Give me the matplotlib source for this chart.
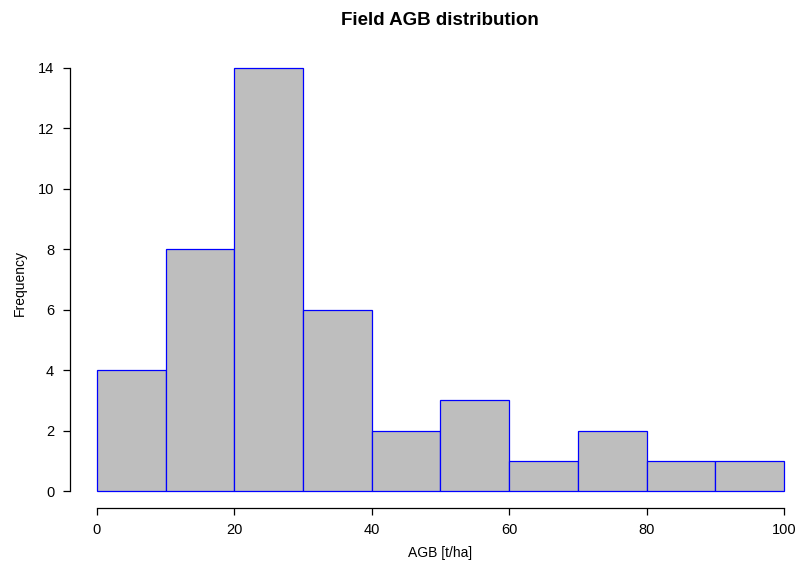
import matplotlib
matplotlib.use("Agg")
import matplotlib.pyplot as plt
import numpy as np

plt.rcParams['font.family'] = ['Liberation Sans', 'DejaVu Sans']

# histogram of field AGB, 10 t/ha bins
bin_edges = [0, 10, 20, 30, 40, 50, 60, 70, 80, 90, 100]
counts = [4, 8, 14, 6, 2, 3, 1, 2, 1, 1]
x_ticks = [0, 20, 40, 60, 80, 100]
y_ticks = [0, 2, 4, 6, 8, 10, 12, 14]

fig = plt.figure(figsize=(7.98, 5.65), dpi=100)
ax = fig.add_axes([0.0871, 0.1009, 0.9298, 0.8088])

edges = np.array(bin_edges)
ax.bar(edges[:-1], counts, width=np.diff(edges), align='edge',
       color='#bebebe', edgecolor='blue', linewidth=0.9, clip_on=False)

ax.set_xlim(-4, 104)
ax.set_ylim(-0.56, 14.56)
ax.spines['top'].set_visible(False)
ax.spines['right'].set_visible(False)
ax.spines['left'].set_bounds(0, 14)
ax.spines['bottom'].set_bounds(0, 100)
for s in ('left', 'bottom'):
    ax.spines[s].set_linewidth(0.9)
ax.set_xticks(x_ticks)
ax.set_yticks(y_ticks)
ax.tick_params(direction='out', length=5, width=0.9, labelsize=10.5, pad=6)

fig.text(0.551, 0.963, "Field AGB distribution", ha='center', va='center',
         fontsize=13.5, fontweight='bold')
fig.text(0.551, 0.021, "AGB [t/ha]", ha='center', va='center', fontsize=10)
fig.text(0.025, 0.5, "Frequency", ha='center', va='center', fontsize=10,
         rotation=90)

fig.savefig("out.png", dpi=100)
